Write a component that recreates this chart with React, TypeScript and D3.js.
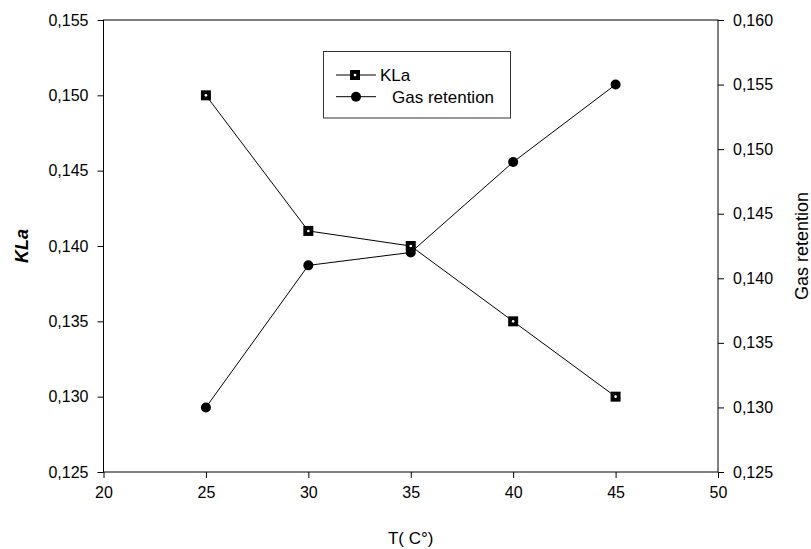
// Dual axis line chart: KLa and gas retention against temperature
import React, { useEffect, useRef } from 'react';
import * as d3 from 'd3';

const temperatures = [25, 30, 35, 40, 45];
const klaValues = [0.15, 0.141, 0.14, 0.135, 0.13];
const gasRetention = [0.13, 0.141, 0.142, 0.149, 0.155];

const xTicks = [20, 25, 30, 35, 40, 45, 50];
const leftTicks = [0.125, 0.13, 0.135, 0.14, 0.145, 0.15, 0.155];
const rightTicks = [0.125, 0.13, 0.135, 0.14, 0.145, 0.15, 0.155, 0.16];

const FONT = 'Liberation Sans, Arial, sans-serif';

const App = () => {
  const svgRef = useRef<SVGSVGElement>(null);

  useEffect(() => {
    const width = 811;
    const height = 549;
    const margin = { top: 20, right: 93, bottom: 77, left: 103.5 };
    const svg = d3.select(svgRef.current);
    svg.selectAll('*').remove();
    svg.attr('width', width).attr('height', height);

    const x = d3.scaleLinear().domain([20, 50]).range([margin.left, width - margin.right]);
    const yLeft = d3.scaleLinear().domain([0.125, 0.155]).range([height - margin.bottom, margin.top]);
    const yRight = d3.scaleLinear().domain([0.125, 0.16]).range([height - margin.bottom, margin.top]);

    const comma = (d: number) => d3.format('.3f')(d).replace('.', ',');

    // frame
    svg.append('rect')
      .attr('x', margin.left)
      .attr('y', margin.top)
      .attr('width', width - margin.right - margin.left)
      .attr('height', height - margin.bottom - margin.top)
      .attr('fill', 'none')
      .attr('stroke', '#000')
      .attr('stroke-width', 1);

    // axes
    const styleAxis = (g: any) => {
      g.select('.domain').remove();
      g.selectAll('line').attr('stroke', '#000');
      g.selectAll('text').attr('font-family', FONT).attr('font-size', 16).attr('fill', '#000');
    };

    svg.append('g')
      .attr('transform', `translate(0,${height - margin.bottom})`)
      .call(d3.axisBottom(x).tickValues(xTicks).tickSize(6).tickPadding(9).tickFormat(d3.format('d')))
      .call(styleAxis);

    svg.append('g')
      .attr('transform', `translate(${margin.left},0)`)
      .call(d3.axisLeft(yLeft).tickValues(leftTicks).tickSize(6).tickPadding(9).tickFormat(comma))
      .call(styleAxis);

    svg.append('g')
      .attr('transform', `translate(${width - margin.right},0)`)
      .call(d3.axisRight(yRight).tickValues(rightTicks).tickSize(6).tickPadding(9).tickFormat(comma))
      .call(styleAxis);

    // axis titles
    svg.append('text')
      .attr('x', (margin.left + width - margin.right) / 2)
      .attr('y', 544)
      .attr('text-anchor', 'middle')
      .attr('font-family', FONT)
      .attr('font-size', 17)
      .text('T( C°)');

    const midY = (margin.top + height - margin.bottom) / 2;
    svg.append('text')
      .attr('transform', `translate(28,${midY}) rotate(-90)`)
      .attr('text-anchor', 'middle')
      .attr('font-family', FONT)
      .attr('font-size', 18)
      .attr('font-weight', 'bold')
      .attr('font-style', 'italic')
      .text('KLa');

    svg.append('text')
      .attr('transform', `translate(808,${midY}) rotate(-90)`)
      .attr('text-anchor', 'middle')
      .attr('font-family', FONT)
      .attr('font-size', 18)
      .text('Gas retention');

    // lines
    const klaLine = d3.line<number>().x((_, i) => x(temperatures[i])).y(d => yLeft(d));
    const gasLine = d3.line<number>().x((_, i) => x(temperatures[i])).y(d => yRight(d));

    svg.append('path').attr('d', klaLine(klaValues)).attr('fill', 'none').attr('stroke', '#000').attr('stroke-width', 1);
    svg.append('path').attr('d', gasLine(gasRetention)).attr('fill', 'none').attr('stroke', '#000').attr('stroke-width', 1);

    // filled square with a small white centre dot
    const square = (g: any, cx: number, cy: number) => {
      g.append('rect')
        .attr('x', cx - 5).attr('y', cy - 5)
        .attr('width', 10).attr('height', 10)
        .attr('fill', '#000');
      g.append('circle').attr('cx', cx).attr('cy', cy).attr('r', 1.3).attr('fill', '#fff');
    };

    const klaG = svg.append('g');
    klaValues.forEach((d, i) => square(klaG, x(temperatures[i]), yLeft(d)));

    svg.append('g').selectAll('circle')
      .data(gasRetention)
      .enter()
      .append('circle')
      .attr('cx', (_, i) => x(temperatures[i]))
      .attr('cy', d => yRight(d))
      .attr('r', 5)
      .attr('fill', '#000');

    // legend
    const legend = svg.append('g');
    legend.append('rect')
      .attr('x', 323.5).attr('y', 51.5)
      .attr('width', 187).attr('height', 66.5)
      .attr('fill', '#fff')
      .attr('stroke', '#333')
      .attr('stroke-width', 1);

    const rows = [
      { label: 'KLa', y: 75, tx: 380, marker: 'square' },
      { label: 'Gas retention', y: 96.7, tx: 392, marker: 'circle' },
    ];
    rows.forEach(r => {
      legend.append('line')
        .attr('x1', 336).attr('x2', 376)
        .attr('y1', r.y).attr('y2', r.y)
        .attr('stroke', '#000');
      if (r.marker === 'square') square(legend, 355, r.y);
      else legend.append('circle').attr('cx', 356).attr('cy', r.y).attr('r', 5).attr('fill', '#000');
      legend.append('text')
        .attr('x', r.tx)
        .attr('y', r.y)
        .attr('dy', '0.35em')
        .attr('font-family', FONT)
        .attr('font-size', 17)
        .text(r.label);
    });
  }, []);

  return (
    <div style={{ position: 'absolute', left: 0, top: 0 }}>
      <svg ref={svgRef} style={{ display: 'block', background: '#fff' }}></svg>
    </div>
  );
};

export default App;
